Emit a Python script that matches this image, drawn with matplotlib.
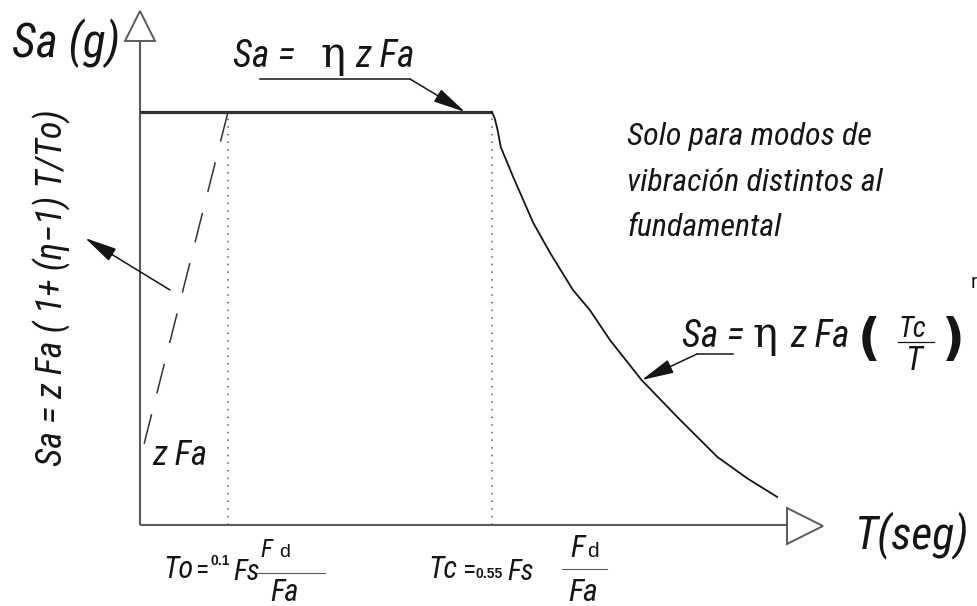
import matplotlib
matplotlib.use("Agg")
import matplotlib.pyplot as plt
from matplotlib import font_manager

# Spectrum values: T in s, Sa normalised so the plateau eta*z*Fa = 1
T0 = 0.1
TC = 0.4
SA_PLATEAU = 1.0
SA_ZFA = 0.157

# descending branch after Tc
T_DESC = [0.400, 0.403, 0.406, 0.410, 0.424, 0.447, 0.466, 0.492, 0.511, 0.534, 0.570, 0.614, 0.656, 0.690, 0.724]
SA_DESC = [1.000, 0.985, 0.960, 0.915, 0.843, 0.731, 0.659, 0.569, 0.521, 0.448, 0.351, 0.254, 0.165, 0.113, 0.068]
ARROW_AT = 10  # point of the branch the formula points to

# pixel frame of the drawing (origin at px 140 / 525, 880 px per s, 413 px per unit Sa)
W, H = 977, 606
X0, Y0, SX, SY = 140, 525, 880.0, 413.0


def px(x, y):
    """pixel position (from top-left) -> data coordinates"""
    return (x - X0) / SX, (Y0 - y) / SY


names = {f.name for f in font_manager.fontManager.ttflist}
NARROW = next((n for n in ["Liberation Sans Narrow", "Arial Narrow", "Roboto Condensed",
                           "Archivo Narrow", "Fira Sans Condensed", "IBM Plex Sans Condensed",
                           "Encode Sans Condensed", "Open Sans Condensed"] if n in names),
              "Liberation Sans")
plt.rcParams["font.family"] = [NARROW, "DejaVu Sans"]

fig = plt.figure(figsize=(W / 100, H / 100), dpi=100)
ax = fig.add_axes([0, 0, 1, 1])
ax.set_xlim(px(0, 0)[0], px(W, 0)[0])
ax.set_ylim(px(0, H)[1], px(0, 0)[1])
ax.axis("off")

AXC = "#5a5a5a"
INK = "#151515"

# axes with hollow arrow heads
t_end, _ = px(788, 0)
_, sa_end = px(0, 40)
ax.plot([0, t_end], [0, 0], color=AXC, lw=1.5, solid_capstyle="butt", zorder=2)
ax.plot([0, 0], [0, sa_end], color=AXC, lw=1.5, solid_capstyle="butt", zorder=2)
ax.plot(*px(805, 526), marker=">", ms=26, mfc="white", mec=AXC, mew=1.4, zorder=3)
ax.plot(*px(140, 26), marker="^", ms=21, mfc="white", mec=AXC, mew=1.4, zorder=3)

# plateau and descending branch
ax.plot([0, TC], [SA_PLATEAU, SA_PLATEAU], color="#333333", lw=2.3, solid_capstyle="butt", zorder=4)
ax.plot(T_DESC, SA_DESC, color=INK, lw=1.3, zorder=4)

# ascending branch (dashed), only for higher modes
ax.plot([T0, 0], [SA_PLATEAU, SA_ZFA], color="#333333", lw=1.1,
        dashes=(20, 14), zorder=4)

# dotted guides at To and Tc
for t in (T0, TC):
    ax.plot([t, t], [0, SA_PLATEAU], color=AXC, lw=1.1, ls=(0, (1, 4)), zorder=3)

head = dict(arrowstyle="-|>,head_length=1.0,head_width=0.22", color=INK, lw=1.1,
            mutation_scale=20, shrinkA=0, shrinkB=0)

# leader for plateau label
ax.plot(*zip(px(260, 79), px(410, 79)), color=INK, lw=1.1)
ax.annotate("", xy=(px(465, 0)[0], SA_PLATEAU), xytext=px(410, 79), arrowprops=head)

# leader for descending branch label
ax.plot(*zip(px(733, 354), px(697, 354)), color=INK, lw=1.1)
ax.annotate("", xy=(T_DESC[ARROW_AT], SA_DESC[ARROW_AT]), xytext=px(697, 354), arrowprops=head)

# leader for ascending branch label
ax.annotate("", xy=px(85, 238), xytext=px(170, 290), arrowprops=head)


def put(x, y, s, size, style="italic", **kw):
    kw.setdefault("ha", "left")
    kw.setdefault("va", "baseline")
    ax.text(*px(x, y), s, fontsize=size, style=style, color=INK, **kw)


# axis titles
put(12, 57, "Sa (g)", 34)
put(855, 548, "T(seg)", 33)

# plateau formula
put(233, 67, "Sa =", 27)
put(320, 67, "η", 30, style="normal", family="DejaVu Serif")
put(355, 67, "z Fa", 27)

# note on the descending branch
put(627, 145, "Solo para modos de", 23)
put(627, 191, "vibración distintos al", 23)
put(627, 236, "fundamental", 23)

# descending branch formula
put(682, 347, "Sa =", 27)
put(752, 347, "η", 30, style="normal", family="DejaVu Serif")
put(790, 347, "z Fa", 27)
put(869, 340, "(", 36, style="normal", weight="bold", ha="center", va="center",
    family="DejaVu Sans")
put(953, 340, ")", 36, style="normal", weight="bold", ha="center", va="center",
    family="DejaVu Sans")
put(912, 337, "Tc", 21, ha="center")
ax.plot(*zip(px(898, 342), px(934, 342)), color=INK, lw=0.9)
put(914, 370, "T", 24, ha="center")
put(971, 288, "r", 15, style="normal")

# ascending branch formula, vertical
put(52, 288, "Sa = z Fa ( 1+ (η−1) T/To)", 26, rotation=90, ha="center", va="center")
put(152, 465, "z Fa", 25)

# period limits
put(163, 578, "To", 22)
put(196, 578, "=", 20, style="normal")
put(211, 565, "0.1", 10, style="normal", weight="bold", family="Liberation Sans")
put(233, 580, "Fs", 21)
put(260, 557, "F", 18)
put(279, 557, "d", 14, style="normal", family="Liberation Sans")
ax.plot(*zip(px(255, 573), px(325, 573)), color=AXC, lw=0.8)
put(270, 601, "Fa", 22)

put(428, 578, "Tc", 22)
put(463, 578, "=", 20, style="normal")
put(476, 578, "0.55", 10, style="normal", weight="bold", family="Liberation Sans")
put(507, 580, "Fs", 21)
put(570, 557, "F", 22)
put(587, 557, "d", 15, style="normal", family="Liberation Sans")
ax.plot(*zip(px(562, 569), px(607, 569)), color=AXC, lw=0.8)
put(568, 601, "Fa", 23)

fig.savefig("out.png", dpi=100)
